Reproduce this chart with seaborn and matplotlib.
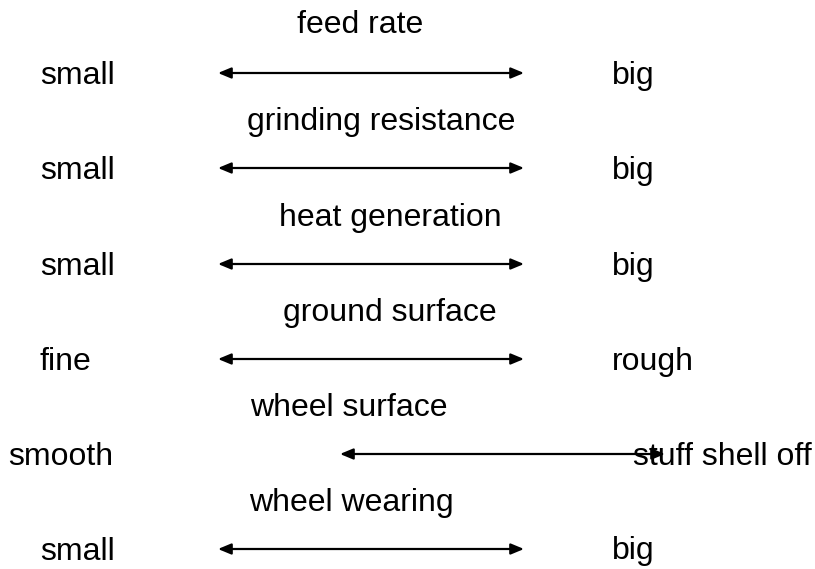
import matplotlib
matplotlib.use("Agg")
import matplotlib.pyplot as plt
import seaborn as sns
import pandas as pd

# Data
factors = ["feed rate", "grinding resistance", "heat generation",
           "ground surface", "wheel surface", "wheel wearing"]
low_labels = ["small", "small", "small", "fine", "smooth", "small"]
high_labels = ["big", "big", "big", "rough", "stuff shell off", "big"]

# Layout (pixel coordinates)
title_x = [297, 247, 279, 283, 250, 249]
row_y = [73, 168, 264, 359, 454, 549]
title_base = [33, 130, 226, 321, 416, 511]
low_x = [40, 40, 40, 40, 8, 40]
high_x = [612, 612, 612, 612, 633, 612]
arrow_x0 = [218, 218, 218, 218, 340, 218]
arrow_x1 = [524, 524, 524, 524, 665, 524]

df = pd.DataFrame({"factor": factors, "low": low_labels, "high": high_labels})

sns.set_theme(style="white")
plt.rcParams["font.family"] = ["Liberation Sans", "DejaVu Sans"]

fig = plt.figure(figsize=(8.15, 5.69), dpi=100)
ax = fig.add_axes([0, 0, 1, 1])
ax.set_xlim(0, 815)
ax.set_ylim(569, 0)
ax.axis("off")

fs = 23
for i, r in df.iterrows():
    ax.text(title_x[i], title_base[i], r["factor"], fontsize=fs, ha="left", va="baseline", color="black")
    ax.text(low_x[i], row_y[i] + 10.5, r["low"], fontsize=fs, ha="left", va="baseline", color="black")
    ax.text(high_x[i], row_y[i] + 10.5, r["high"], fontsize=fs, ha="left", va="baseline", color="black")
    ax.annotate("", xy=(arrow_x1[i], row_y[i]), xytext=(arrow_x0[i], row_y[i]),
                arrowprops=dict(arrowstyle="<|-|>,head_length=0.6,head_width=0.25",
                                color="black", lw=1.6, shrinkA=0, shrinkB=0,
                                mutation_scale=13))

fig.savefig("out.png", dpi=100, facecolor="white")
